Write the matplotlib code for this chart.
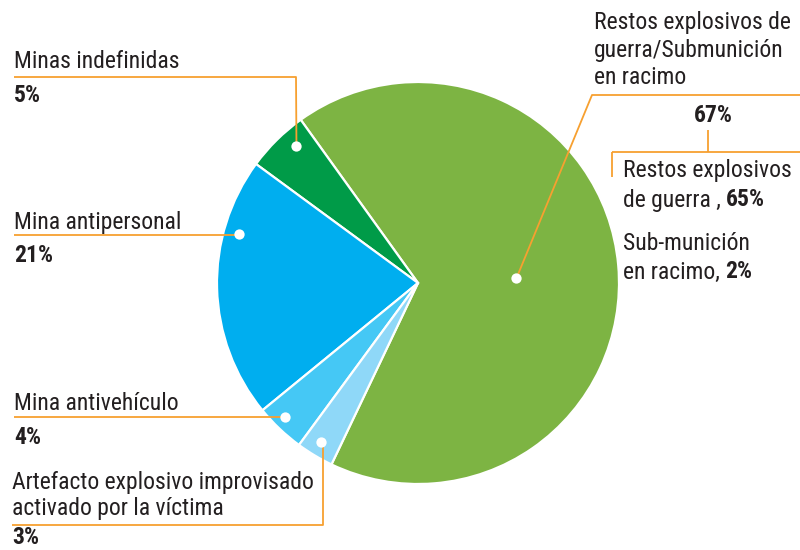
import numpy as np
import matplotlib
matplotlib.use('Agg')
import matplotlib.pyplot as plt

# Data
labels = ['Restos explosivos de guerra/Submunición en racimo', 'Minas indefinidas',
          'Mina antipersonal', 'Mina antivehículo',
          'Artefacto explosivo improvisado activado por la víctima']
values = [67, 5, 21, 4, 3]
colors = ['#7DB443', '#009B48', '#00AEEF', '#45C8F5', '#8FD8F8']
sub_labels = ['Restos explosivos\nde guerra', 'Sub-munición\nen racimo']
sub_values = [65, 2]

FONT = ['Roboto Condensed', 'DejaVu Sans']
TXT = '#231F20'
LINE = '#F7A030'
H = 550  # figure height in px, y measured from top


def Y(y):
    return H - y


fig = plt.figure(figsize=(8, 5.5), dpi=100)
ax = fig.add_axes([0, 0, 1, 1])

cx, cy, r = 418, 283, 201
wedges, _ = ax.pie(values, colors=colors, startangle=-115.5, counterclock=True,
                   center=(cx, Y(cy)), radius=r,
                   wedgeprops=dict(edgecolor='white', linewidth=1.6))
ax.set_xlim(0, 800)
ax.set_ylim(0, H)
ax.set_aspect('equal')
ax.axis('off')

# anchor dot on each wedge: fraction along the arc, fraction of radius
anchor = [(0.49, 0.49), (0.33, 0.91), (0.28, 0.925), (0.40, 0.94), (0.45, 0.925)]
dots = []
for w, (fa, fr) in zip(wedges, anchor):
    a = np.deg2rad(w.theta1 + fa * (w.theta2 - w.theta1))
    dots.append((cx + fr * r * np.cos(a), Y(cy) + fr * r * np.sin(a)))

lk = dict(color=LINE, lw=1.3, zorder=3, solid_capstyle='butt')
# leader lines
d = dots[1]
ax.plot([14, 296, 296, d[0]], [Y(77), Y(77), Y(77), d[1]], **lk)
d = dots[2]
ax.plot([14, d[0]], [Y(235), Y(235)], **lk)
d = dots[3]
ax.plot([14, d[0]], [Y(417), Y(417)], **lk)
d = dots[4]
ax.plot([12, 323, 323], [Y(525), Y(525), d[1]], **lk)
d = dots[0]
ax.plot([d[0], 592, 800], [d[1], Y(95), Y(95)], **lk)
ax.plot([708, 708], [Y(130), Y(152)], **lk)
ax.plot([612, 800], [Y(152), Y(152)], **lk)
ax.plot([612, 612], [Y(152), Y(177)], **lk)

for d in dots:
    ax.scatter(d[0], d[1], s=55, color='white', zorder=4, linewidths=0)

fs = 17
tk = dict(fontsize=fs, color=TXT, family=FONT, va='center', ha='left')
bk = dict(tk, fontweight='bold')

ax.text(594, Y(23), 'Restos explosivos de', **tk)
ax.text(594, Y(51), 'guerra/Submunición', **tk)
ax.text(594, Y(78), 'en racimo', **tk)
ax.text(713, Y(115), f'{values[0]}%', **dict(bk, ha='center'))

t = ax.text(623, Y(170), 'Restos explosivos', **tk)
t = ax.text(623, Y(200), 'de guerra , ', **tk)
ax.annotate(f'{sub_values[0]}%', xycoords=t, xy=(1, 0.5), va='center', ha='left',
            fontsize=fs, color=TXT, family=FONT, fontweight='bold')
ax.text(623, Y(244), 'Sub-munición', **tk)
t = ax.text(623, Y(272), 'en racimo, ', **tk)
ax.annotate(f'{sub_values[1]}%', xycoords=t, xy=(1, 0.5), va='center', ha='left',
            fontsize=fs, color=TXT, family=FONT, fontweight='bold')

ax.text(14, Y(62), labels[1], **tk)
ax.text(14, Y(95), f'{values[1]}%', **bk)
ax.text(14, Y(222), labels[2], **tk)
ax.text(14, Y(255), f'{values[2]}%', **bk)
ax.text(14, Y(404), labels[3], **tk)
ax.text(14, Y(437), f'{values[3]}%', **bk)
ax.text(12, Y(482), 'Artefacto explosivo improvisado', **tk)
ax.text(12, Y(508), 'activado por la víctima', **tk)
ax.text(12, Y(538), f'{values[4]}%', **bk)

fig.savefig('out.png', dpi=100, facecolor='white')
